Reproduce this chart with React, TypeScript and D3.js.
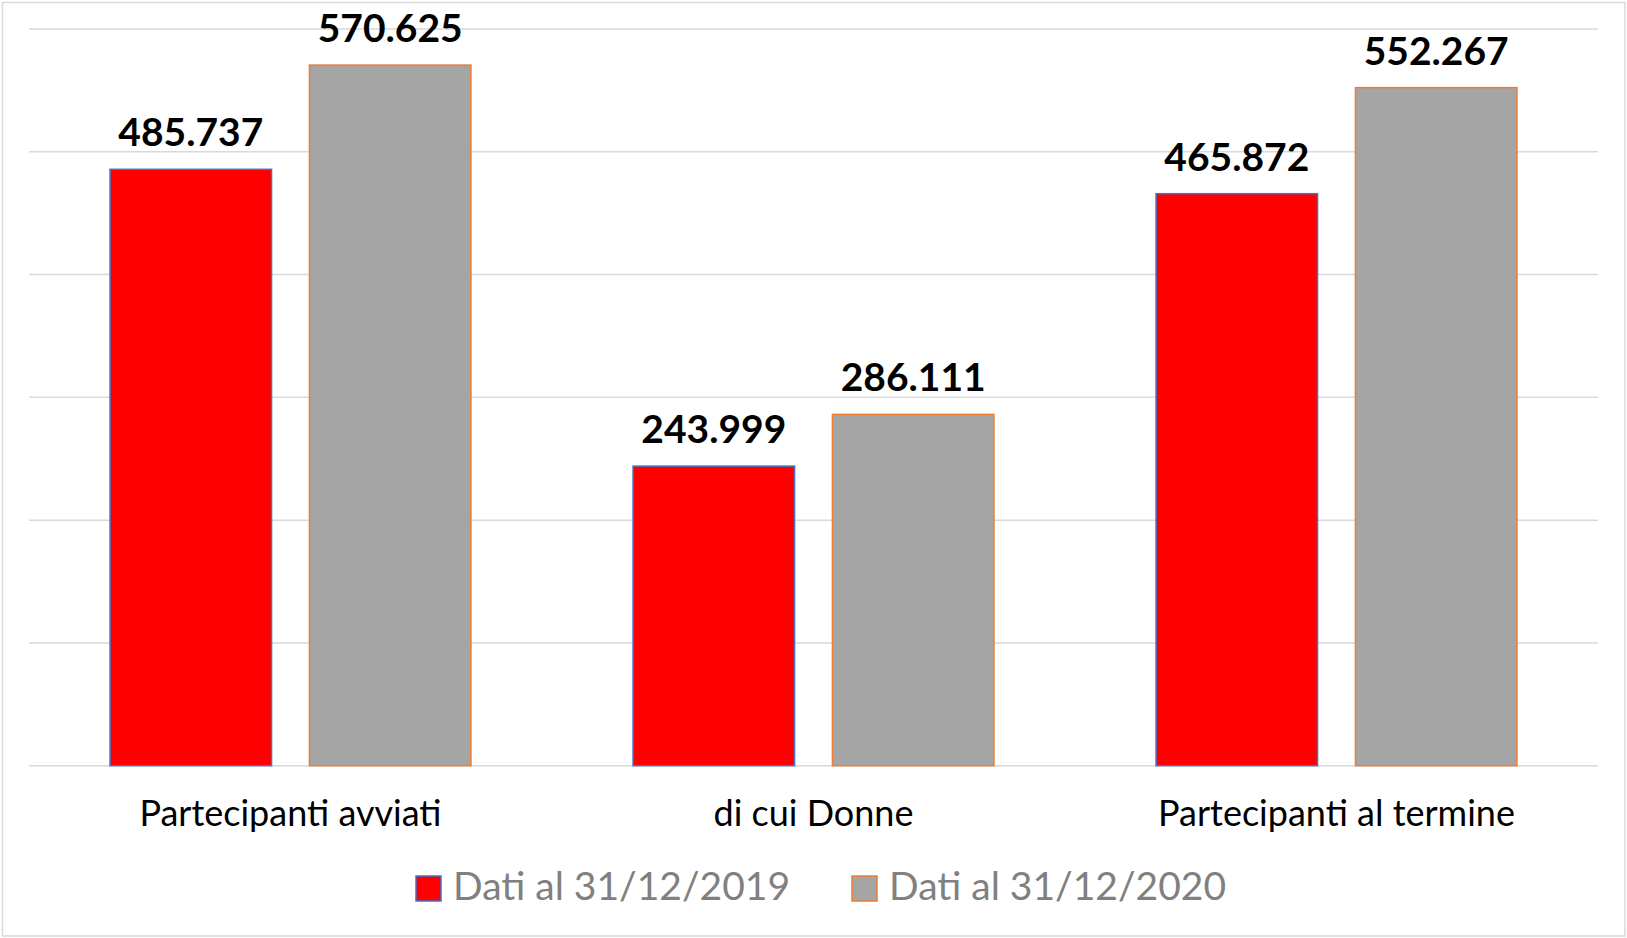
import * as d3 from "d3";
import React, { useEffect, useRef } from "react";

// Categories on the x axis
const categories = ["Partecipanti avviati", "di cui Donne", "Partecipanti al termine"];

// Series names (legend labels)
const seriesNames = ["Dati al 31/12/2019", "Dati al 31/12/2020"];

// Values per series, same order as categories
const values2019 = [485737, 243999, 465872];
const values2020 = [570625, 286111, 552267];

// Gridline ticks
const yTicks = [0, 100000, 200000, 300000, 400000, 500000, 600000];

const seriesFill = ["#ff0000", "#a5a5a5"];
const seriesStroke = ["#4472c4", "#ed7d31"];

const fmt = (v: number) => d3.format(",")(v).replace(/,/g, ".");

const App: React.FC = () => {
  const chartRef = useRef<HTMLDivElement>(null);

  useEffect(() => {
    if (!chartRef.current) return;
    d3.select(chartRef.current).selectAll("*").remove();

    const width = 1627,
      height = 938,
      margin = { top: 29, right: 29, bottom: 172, left: 29 };

    const svg = d3
      .select(chartRef.current)
      .append("svg")
      .attr("width", width)
      .attr("height", height)
      .style("display", "block");

    // white background + light border
    svg
      .append("rect")
      .attr("x", 2.5)
      .attr("y", 2.5)
      .attr("width", width - 4.5)
      .attr("height", height - 4.5)
      .attr("fill", "#ffffff")
      .attr("stroke", "#d9d9d9")
      .attr("stroke-width", 1.5);

    const x0 = d3
      .scaleBand()
      .domain(categories)
      .range([margin.left, width - margin.right])
      .paddingInner(0.31)
      .paddingOuter(0.155);

    const x1 = d3
      .scaleBand()
      .domain(seriesNames)
      .range([0, x0.bandwidth()])
      .paddingInner(0.19);

    const y = d3
      .scaleLinear()
      .domain([0, 600000])
      .range([height - margin.bottom - 0.3, margin.top]);

    // gridlines
    svg
      .append("g")
      .selectAll("line")
      .data(yTicks)
      .enter()
      .append("line")
      .attr("x1", margin.left)
      .attr("x2", width - margin.right)
      .attr("y1", (d) => y(d))
      .attr("y2", (d) => y(d))
      .attr("stroke", "#d9d9d9")
      .attr("stroke-width", 1.5);

    const rows = categories.map((c, i) => ({
      category: c,
      values: [values2019[i], values2020[i]].map((v, s) => ({ series: seriesNames[s], s, value: v })),
    }));

    const groups = svg
      .append("g")
      .selectAll("g")
      .data(rows)
      .enter()
      .append("g")
      .attr("transform", (d) => `translate(${x0(d.category)},0)`);

    groups
      .selectAll("rect")
      .data((d) => d.values)
      .enter()
      .append("rect")
      .attr("x", (d) => x1(d.series)!)
      .attr("y", (d) => y(d.value))
      .attr("width", x1.bandwidth())
      .attr("height", (d) => y(0) - y(d.value))
      .attr("fill", (d) => seriesFill[d.s])
      .attr("stroke", (d) => seriesStroke[d.s])
      .attr("stroke-width", 1.5);

    // value labels
    groups
      .selectAll(".val")
      .data((d) => d.values)
      .enter()
      .append("text")
      .attr("class", "val")
      .attr("x", (d) => x1(d.series)! + x1.bandwidth() / 2)
      .attr("y", (d) => y(d.value) - 23)
      .attr("text-anchor", "middle")
      .style("font-family", "Lato, 'Open Sans', sans-serif")
      .style("font-weight", "bold")
      .style("font-size", "39px")
      .style("fill", "#000000")
      .text((d) => fmt(d.value));

    // category labels
    svg
      .append("g")
      .selectAll("text")
      .data(categories)
      .enter()
      .append("text")
      .attr("x", (d) => x0(d)! + x0.bandwidth() / 2)
      .attr("y", 826)
      .attr("text-anchor", "middle")
      .style("font-family", "Lato, 'Open Sans', sans-serif")
      .style("font-size", "36px")
      .style("fill", "#000000")
      .text((d) => d);

    // legend
    const legendX = [416, 852];
    const legend = svg
      .append("g")
      .selectAll("g")
      .data(seriesNames)
      .enter()
      .append("g")
      .attr("transform", (_d, i) => `translate(${legendX[i]},876)`);

    legend
      .append("rect")
      .attr("width", 25)
      .attr("height", 25)
      .attr("fill", (_d, i) => seriesFill[i])
      .attr("stroke", (_d, i) => seriesStroke[i])
      .attr("stroke-width", 1.5);

    legend
      .append("text")
      .attr("x", 37)
      .attr("y", 24)
      .style("font-family", "Lato, 'Open Sans', sans-serif")
      .style("font-size", "39px")
      .style("fill", "#808080")
      .text((d) => d);
  }, []);

  return <div ref={chartRef} style={{ position: "absolute", left: 0, top: 0 }}></div>;
};

export default App;
